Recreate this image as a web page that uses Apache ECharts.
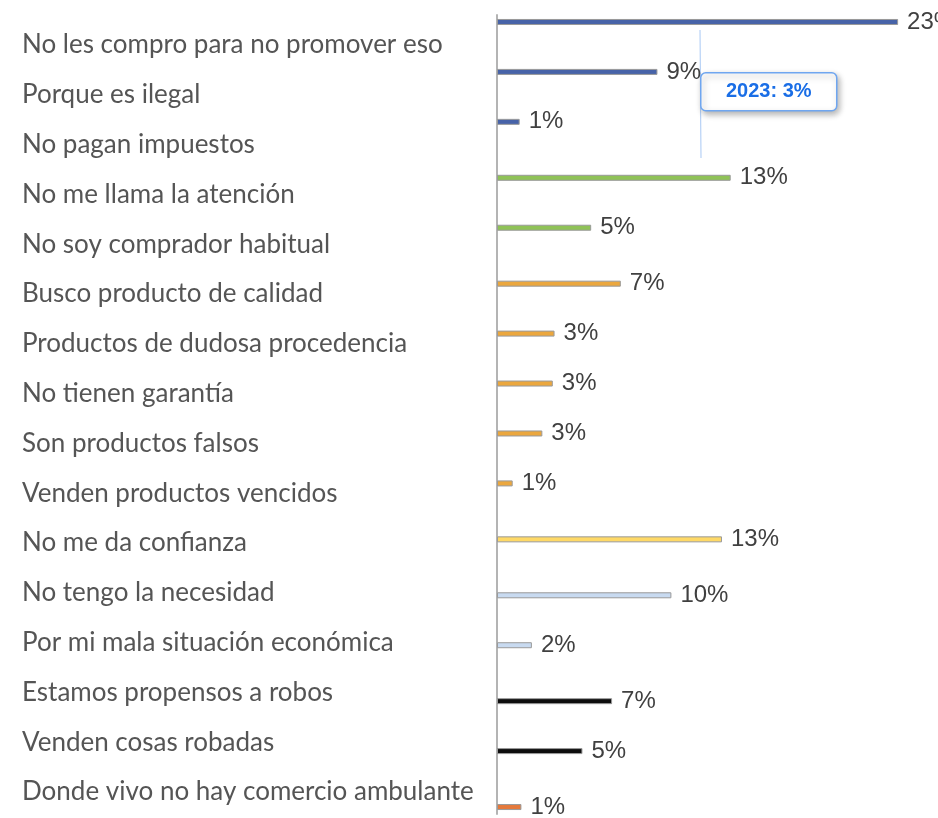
<!DOCTYPE html>
<html>
<head>
<meta charset="utf-8">
<script src="https://cdn.jsdelivr.net/npm/echarts@6/dist/echarts.min.js"></script>
<style>
  html, body { margin: 0; padding: 0; background: #fff; }
  #chart { width: 938px; height: 818px; }
</style>
</head>
<body>
<div id="chart"></div>
<script>
// motivos para no comprar en el comercio ambulante (2023)
const categories = [
  "No les compro para no promover eso",
  "Porque es ilegal",
  "No pagan impuestos",
  "No me llama la atención",
  "No soy comprador habitual",
  "Busco producto de calidad",
  "Productos de dudosa procedencia",
  "No tienen garantía",
  "Son productos falsos",
  "Venden productos vencidos",
  "No me da confianza",
  "No tengo la necesidad",
  "Por mi mala situación económica",
  "Estamos propensos a robos",
  "Venden cosas robadas",
  "Donde vivo no hay comercio ambulante"
];
const values2023 = [23.0, 9.2, 1.3, 13.4, 5.4, 7.1, 3.3, 3.2, 2.6, 0.9, 12.9, 10.0, 2.0, 6.6, 4.9, 1.4];
// which colour group (series) each reason belongs to
const groupOf = [0, 0, 0, 1, 1, 2, 2, 2, 2, 2, 3, 4, 4, 5, 5, 6];
const groupColors = ["#4763a8", "#8fc257", "#eba73e", "#ffd966", "#c8daf0", "#0d0d0d", "#e5793b"];

const chart = echarts.init(document.getElementById("chart"));

const series = groupColors.map((color, g) => ({
  name: "2023",
  type: "bar",
  xAxisIndex: 1,
  yAxisIndex: 1,
  barWidth: 6,
  barGap: "0%",
  data: values2023.map((v, i) => (groupOf[i] === g ? v : "-")),
  itemStyle: { color: color, borderColor: "#9a9a9a", borderWidth: 1 },
  label: {
    show: true,
    position: "right",
    distance: 9,
    fontFamily: "Liberation Sans",
    fontSize: 24,
    color: "#404040",
    formatter: p => Math.round(p.value) + "%"
  }
}));

chart.setOption({
  animation: false,
  grid: [
    // category labels
    { left: 497, right: 5, top: 20, bottom: 1 },
    // bars and axis line
    { left: 497, right: 5, top: 15, bottom: 4 }
  ],
  xAxis: [
    { gridIndex: 0, type: "value", min: 0, max: 25, show: false },
    { gridIndex: 1, type: "value", min: 0, max: 25, show: false }
  ],
  yAxis: [
    {
      gridIndex: 0,
      type: "category",
      inverse: true,
      data: categories,
      axisLine: { show: false },
      axisTick: { show: false },
      axisLabel: {
        align: "left",
        margin: 475,
        fontFamily: "Lato",
        fontSize: 26,
        color: "#555555"
      }
    },
    {
      gridIndex: 1,
      type: "category",
      inverse: true,
      data: categories,
      axisLine: { show: true, lineStyle: { color: "#b4b4b4", width: 2 } },
      axisTick: { show: false },
      axisLabel: { show: false }
    }
  ],
  series: series,
  graphic: [
    {
      type: "line",
      shape: { x1: 700, y1: 30, x2: 701, y2: 158 },
      style: { stroke: "#a8c8f4", lineWidth: 1 }
    },
    {
      type: "group",
      left: 700,
      top: 72,
      children: [
        {
          type: "rect",
          shape: { x: 0, y: 0, width: 136, height: 38, r: 5 },
          style: {
            fill: "#ffffff",
            stroke: "#6fa6f0",
            lineWidth: 1.5,
            shadowBlur: 6,
            shadowOffsetX: 2,
            shadowOffsetY: 3,
            shadowColor: "rgba(0,0,0,0.3)"
          }
        },
        {
          type: "text",
          x: 68,
          y: 19,
          style: {
            text: "2023: 3%",
            align: "center",
            verticalAlign: "middle",
            fontFamily: "Liberation Sans",
            fontWeight: "bold",
            fontSize: 20,
            fill: "#1a6ee6"
          }
        }
      ]
    }
  ]
});
</script>
</body>
</html>
